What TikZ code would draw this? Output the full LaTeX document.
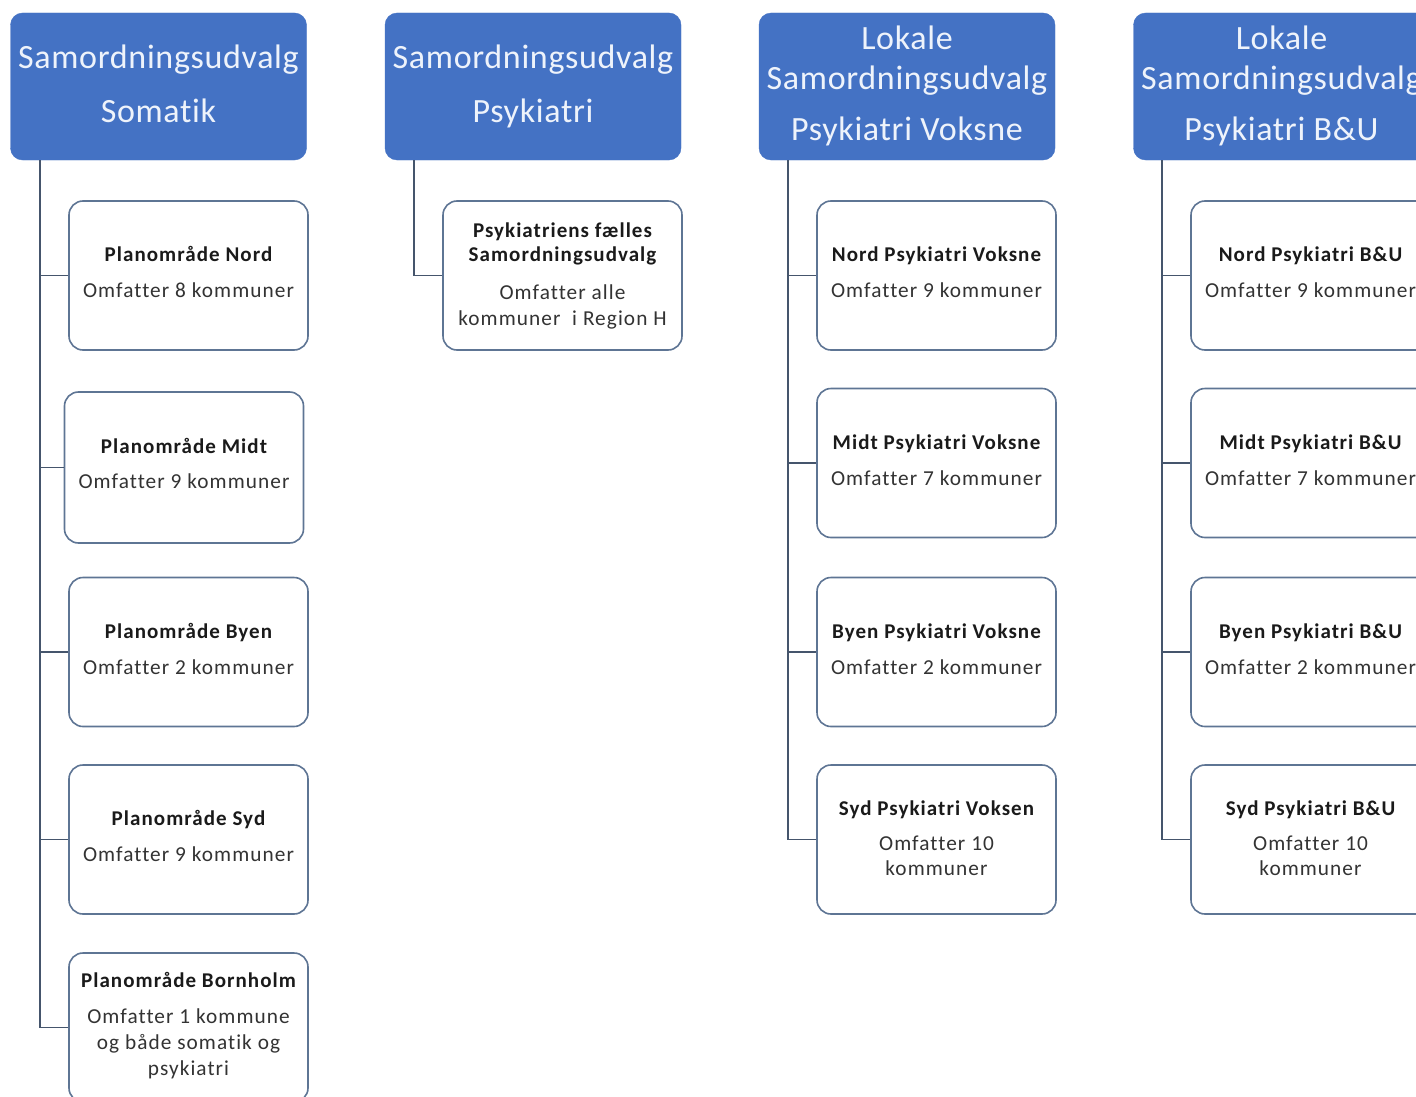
\documentclass[tikz,border=0pt]{standalone}
\usepackage{fontspec}
\setmainfont{Carlito}[Ligatures=NoCommon]
\newfontfamily\hdfont{Carlito}[LetterSpace=2,Ligatures=NoCommon]
\newfontfamily\kidfont{Carlito}[LetterSpace=5,Ligatures=NoCommon]
\newfontfamily\kidbold{Carlito}[LetterSpace=5,BoldFont=Carlito Bold,Ligatures=NoCommon]
\usetikzlibrary{calc}
\definecolor{hdblue}{HTML}{4472C4}
\definecolor{hdtext}{HTML}{EEF3FB}
\definecolor{kidborder}{HTML}{5E7594}
\definecolor{connline}{HTML}{45556C}
\definecolor{boldtext}{HTML}{1A1A1A}
\definecolor{normtext}{HTML}{333333}
\tikzset{
  hdbox/.style={draw=hdblue, fill=hdblue, rounded corners=12pt, minimum width=296pt, minimum height=147pt, inner sep=0pt},
  kidbox/.style={draw=kidborder, line width=1.6pt, fill=white, rounded corners=14pt, minimum width=239pt, minimum height=149pt, inner sep=0pt},
  hdline/.style={anchor=base, inner sep=0pt, text=hdtext, font=\hdfont\fontsize{34}{40}\selectfont},
  bline/.style={anchor=base, inner sep=0pt, text=boldtext, font=\kidbold\bfseries\fontsize{21}{25}\selectfont},
  nline/.style={anchor=base, inner sep=0pt, text=normtext, font=\kidfont\fontsize{21.3}{25}\selectfont},
  conn/.style={draw=connline, line width=1.8pt}
}
\begin{document}
\begin{tikzpicture}[x=1pt,y=-1pt]
\useasboundingbox (0,0) rectangle (1416,1097);
\clip (0,0) rectangle (1416,1097);
\fill[white] (0,0) rectangle (1416,1097);

% headers
\node[hdbox] (h1) at (158.5,86.5) {};
\node[hdbox] (h2) at (533,86.5) {};
\node[hdbox] (h3) at (907,86.5) {};
\node[hdbox] (h4) at (1281.5,86.5) {};

\node[hdline] (h1a) at ($(h1.center)+(0,-17.5)$) {Samordningsudvalg};
\node[hdline] (h1b) at ($(h1.center)+(0,36)$) {Somatik};
\node[hdline] (h2a) at ($(h2.center)+(0,-17.5)$) {Samordningsudvalg};
\node[hdline] (h2b) at ($(h2.center)+(0,36)$) {Psykiatri};
\node[hdline] (h3a) at ($(h3.center)+(0,-37)$) {Lokale};
\node[hdline] (h3b) at ($(h3.center)+(0,3)$) {Samordningsudvalg};
\node[hdline] (h3c) at ($(h3.center)+(0,54.5)$) {Psykiatri Voksne};
\node[hdline] (h4a) at ($(h4.center)+(0,-37)$) {Lokale};
\node[hdline] (h4b) at ($(h4.center)+(0,3)$) {Samordningsudvalg};
\node[hdline] (h4c) at ($(h4.center)+(0,54.5)$) {Psykiatri B\&U};

% trunk starts
\coordinate (t1) at ($(h1.south west)+(30,0)$);
\coordinate (t2) at ($(h2.south west)+(29,0)$);
\coordinate (t3) at ($(h3.south west)+(29,0)$);
\coordinate (t4) at ($(h4.south west)+(29,0)$);

% column 1
\node[kidbox] (c1n) at (188.5,275.5) {};
\node[kidbox, minimum height=151pt] (c1m) at (184,467.5) {};
\node[kidbox] (c1b) at (188.5,652) {};
\node[kidbox] (c1s) at (188.5,839.5) {};
\node[kidbox] (c1h) at (188.5,1027.5) {};

% column 2
\node[kidbox] (c2) at (562.5,275.5) {};

% column 3
\node[kidbox] (c3n) at (936.5,275.5) {};
\node[kidbox] (c3m) at (936.5,463) {};
\node[kidbox] (c3b) at (936.5,652) {};
\node[kidbox] (c3s) at (936.5,839.5) {};

% column 4
\node[kidbox] (c4n) at (1310.5,275.5) {};
\node[kidbox] (c4m) at (1310.5,463) {};
\node[kidbox] (c4b) at (1310.5,652) {};
\node[kidbox] (c4s) at (1310.5,839.5) {};

% connectors
\foreach \k in {c1n,c1m,c1b,c1s,c1h} \draw[conn] (t1) |- (\k.west);
\draw[conn] (t2) |- (c2.west);
\foreach \k in {c3n,c3m,c3b,c3s} \draw[conn] (t3) |- (\k.west);
\foreach \k in {c4n,c4m,c4b,c4s} \draw[conn] (t4) |- (\k.west);

% texts column 1
\node[bline] (c1nA) at ($(c1n.center)+(0,-14)$) {Planområde Nord};
\node[nline] (c1nB) at ($(c1n.center)+(0,22)$) {Omfatter 8 kommuner};
\node[bline] (c1mA) at ($(c1m.center)+(0,-14)$) {Planområde Midt};
\node[nline] (c1mB) at ($(c1m.center)+(0,21)$) {Omfatter 9 kommuner};
\node[bline] (c1bA) at ($(c1b.center)+(0,-14)$) {Planområde Byen};
\node[nline] (c1bB) at ($(c1b.center)+(0,22)$) {Omfatter 2 kommuner};
\node[bline] (c1sA) at ($(c1s.center)+(0,-14)$) {Planområde Syd};
\node[nline] (c1sB) at ($(c1s.center)+(0,22)$) {Omfatter 9 kommuner};
\node[bline] (c1hA) at ($(c1h.center)+(0,-40)$) {Planområde Bornholm};
\node[nline] (c1hB) at ($(c1h.center)+(0,-4.5)$) {Omfatter 1 kommune};
\node[nline] (c1hC) at ($(c1h.center)+(0,21.5)$) {og både somatik og};
\node[nline] (c1hD) at ($(c1h.center)+(0,47.5)$) {psykiatri};

% texts column 2
\node[bline] (c2A) at ($(c2.center)+(0,-38)$) {Psykiatriens fælles};
\node[bline] (c2B) at ($(c2.center)+(0,-14)$) {Samordningsudvalg};
\node[nline] (c2C) at ($(c2.center)+(0,23.5)$) {Omfatter alle};
\node[nline] (c2D) at ($(c2.center)+(0,50)$) {kommuner\ \ i Region H};

% texts column 3
\node[bline] (c3nA) at ($(c3n.center)+(0,-14)$) {Nord Psykiatri Voksne};
\node[nline] (c3nB) at ($(c3n.center)+(0,22)$) {Omfatter 9 kommuner};
\node[bline] (c3mA) at ($(c3m.center)+(0,-14)$) {Midt Psykiatri Voksne};
\node[nline] (c3mB) at ($(c3m.center)+(0,22)$) {Omfatter 7 kommuner};
\node[bline] (c3bA) at ($(c3b.center)+(0,-14)$) {Byen Psykiatri Voksne};
\node[nline] (c3bB) at ($(c3b.center)+(0,22)$) {Omfatter 2 kommuner};
\node[bline] (c3sA) at ($(c3s.center)+(0,-24.5)$) {Syd Psykiatri Voksen};
\node[nline] (c3sB) at ($(c3s.center)+(0,11)$) {Omfatter 10};
\node[nline] (c3sC) at ($(c3s.center)+(0,36)$) {kommuner};

% texts column 4
\node[bline] (c4nA) at ($(c4n.center)+(0,-14)$) {Nord Psykiatri B\&U};
\node[nline] (c4nB) at ($(c4n.center)+(0,22)$) {Omfatter 9 kommuner};
\node[bline] (c4mA) at ($(c4m.center)+(0,-14)$) {Midt Psykiatri B\&U};
\node[nline] (c4mB) at ($(c4m.center)+(0,22)$) {Omfatter 7 kommuner};
\node[bline] (c4bA) at ($(c4b.center)+(0,-14)$) {Byen Psykiatri B\&U};
\node[nline] (c4bB) at ($(c4b.center)+(0,22)$) {Omfatter 2 kommuner};
\node[bline] (c4sA) at ($(c4s.center)+(0,-24.5)$) {Syd Psykiatri B\&U};
\node[nline] (c4sB) at ($(c4s.center)+(0,11)$) {Omfatter 10};
\node[nline] (c4sC) at ($(c4s.center)+(0,36)$) {kommuner};
\end{tikzpicture}
\end{document}
